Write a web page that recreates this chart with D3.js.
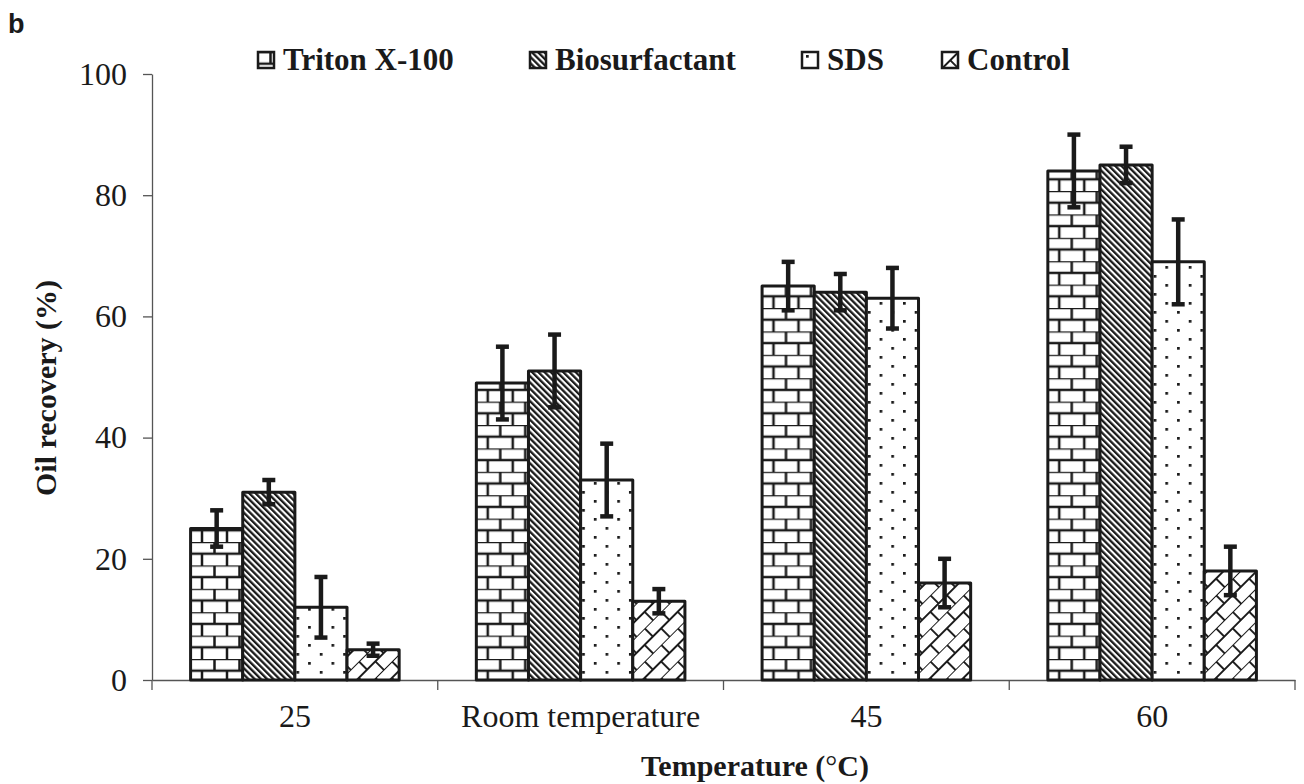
<!DOCTYPE html>
<html>
<head>
<meta charset="utf-8">
<script src="https://cdn.jsdelivr.net/npm/d3@7"></script>
<style>
    html, body { margin: 0; padding: 0; background: #fff; }
    #chart { width: 1304px; height: 784px; }
    text { font-family: "Liberation Serif", "Times New Roman", serif; fill: #1a1a1a; }
</style>
</head>
<body>
<div id="chart"></div>
<script>

// values
var categories = ['25', 'Room temperature', '45', '60'];
var seriesNames = ['Triton X-100', 'Biosurfactant', 'SDS', 'Control'];

var tritonValues = [25, 49, 65, 84];
var tritonErrors = [3, 6, 4, 6];

var bioValues = [31, 51, 64, 85];
var bioErrors = [2, 6, 3, 3];

var sdsValues = [12, 33, 63, 69];
var sdsErrors = [5, 6, 5, 7];

var controlValues = [5, 13, 16, 18];
var controlErrors = [1, 2, 4, 4];

var yTicks = [0, 20, 40, 60, 80, 100];


class PatternBarChart {


    constructor(config) {

        this._config = config;
        this._width = 1304;
        this._height = 784;

        this._margin = {
            left: 152,
            top: 74,
            right: 9,
            bottom: 104
        };
    }


    renderTo(selector) {

        var svg = d3.select(selector)
            .append('svg')
            .attr('width', this._width)
            .attr('height', this._height);

        this._svg = svg;
        this._addPatterns(svg.append('defs'));

        var x0 = this._getGroupScale();
        var x1 = this._getSeriesScale(x0);
        var y = this._getYScale();
        var innerH = this._getInnerHeight();
        var ink = '#1a1a1a';

        var canvas = svg.append('g')
            .attr('transform', 'translate(' + [this._margin.left, this._margin.top] + ')');

        // y axis
        var yAxis = canvas.append('g')
            .attr('class', 'axis y-axis')
            .call(d3.axisLeft(y).tickValues(yTicks).tickSize(9).tickPadding(16).tickSizeOuter(0));

        yAxis.selectAll('text')
            .style('font-size', '32px')
            .style('font-family', '"Liberation Serif", serif')
            .attr('fill', ink);

        // x axis (labels at band centres, ticks at band edges)
        var xAxis = canvas.append('g')
            .attr('class', 'axis x-axis')
            .attr('transform', 'translate(0,' + innerH + ')')
            .call(d3.axisBottom(x0).tickSize(0).tickPadding(24).tickSizeOuter(0));

        xAxis.selectAll('text')
            .style('font-size', '32px')
            .style('font-family', '"Liberation Serif", serif')
            .attr('fill', ink);

        var edges = categories.map(d => x0(d)).concat([x0.range()[1]]);

        xAxis.selectAll('line.edge')
            .data(edges)
            .enter()
            .append('line')
            .attr('class', 'edge')
            .attr('x1', d => d)
            .attr('x2', d => d)
            .attr('y1', 0)
            .attr('y2', 10);

        canvas.selectAll('.axis path, .axis line')
            .attr('stroke', '#555')
            .attr('stroke-width', 1.3);

        // bars
        var groups = canvas.selectAll('g.group')
            .data(categories)
            .enter()
            .append('g')
            .attr('class', 'group')
            .attr('transform', d => 'translate(' + x0(d) + ',0)');

        var self = this;

        groups.each(function(cat, ci) {

            var g = d3.select(this);
            var rows = self._config.series.map(s => ({
                key: s.key,
                name: s.name,
                value: s.values[ci],
                error: s.errors[ci]
            }));

            g.selectAll('rect.bar')
                .data(rows)
                .enter()
                .append('rect')
                .attr('class', 'bar')
                .attr('x', d => x1(d.name))
                .attr('y', d => y(d.value))
                .attr('width', x1.bandwidth())
                .attr('height', d => innerH - y(d.value))
                .attr('fill', d => 'url(#p-' + d.key + ')')
                .attr('stroke', ink)
                .attr('stroke-width', 3)
                .attr('stroke-linejoin', 'round');

            var err = g.selectAll('g.err')
                .data(rows)
                .enter()
                .append('g')
                .attr('class', 'err')
                .attr('stroke', ink)
                .attr('stroke-width', 4.5);

            err.append('line')
                .attr('x1', d => x1(d.name) + x1.bandwidth() / 2)
                .attr('x2', d => x1(d.name) + x1.bandwidth() / 2)
                .attr('y1', d => y(d.value + d.error))
                .attr('y2', d => y(d.value - d.error));

            err.selectAll('line.cap')
                .data(d => [d.value + d.error, d.value - d.error].map(v => ({ v: v, cx: x1(d.name) + x1.bandwidth() / 2 })))
                .enter()
                .append('line')
                .attr('class', 'cap')
                .attr('x1', d => d.cx - 6.5)
                .attr('x2', d => d.cx + 6.5)
                .attr('y1', d => y(d.v))
                .attr('y2', d => y(d.v));
        });

        // legend
        var legendX = [258, 530, 802, 942];

        var legend = svg.selectAll('g.legend')
            .data(this._config.series)
            .enter()
            .append('g')
            .attr('class', 'legend')
            .attr('transform', (d, i) => 'translate(' + [legendX[i], 52] + ')');

        legend.append('rect')
            .attr('width', 16)
            .attr('height', 16)
            .attr('fill', d => 'url(#p-' + d.key + ')')
            .attr('stroke', ink)
            .attr('stroke-width', 2.5);

        legend.append('text')
            .attr('x', 25)
            .attr('y', 18)
            .style('font-size', '31px')
            .style('font-weight', 'bold')
            .text(d => d.name);

        // titles
        svg.append('text')
            .attr('transform', 'translate(56,388) rotate(-90)')
            .attr('text-anchor', 'middle')
            .style('font-size', '30px')
            .style('font-weight', 'bold')
            .text('Oil recovery (%)');

        var xt = svg.append('text')
            .attr('x', 755)
            .attr('y', 776)
            .attr('text-anchor', 'middle')
            .style('font-size', '30px')
            .style('font-weight', 'bold');

        xt.append('tspan').text('Temperature (');
        xt.append('tspan').style('font-weight', 'normal').text('°');
        xt.append('tspan').text('C)');

        svg.append('text')
            .attr('x', 8)
            .attr('y', 33)
            .style('font-family', '"Liberation Sans", Arial, sans-serif')
            .style('font-size', '27px')
            .style('font-weight', 'bold')
            .text('b');

        return this;
    }


    _addPatterns(defs) {

        var ink = '#1a1a1a';

        // horizontal brick
        var brick = defs.append('pattern')
            .attr('id', 'p-triton')
            .attr('patternUnits', 'userSpaceOnUse')
            .attr('width', 25)
            .attr('height', 23.4);
        brick.append('rect').attr('width', 25).attr('height', 23.4).attr('fill', '#fff');
        brick.append('path')
            .attr('d', 'M0,0H25M0,11.7H25M12.5,0V11.7M0,11.7V23.4M25,11.7V23.4')
            .attr('stroke', ink)
            .attr('stroke-width', 2.5);

        // dark downward diagonal
        var stripes = defs.append('pattern')
            .attr('id', 'p-bio')
            .attr('patternUnits', 'userSpaceOnUse')
            .attr('width', 4.4)
            .attr('height', 10)
            .attr('patternTransform', 'rotate(-45)');
        stripes.append('rect').attr('width', 4.4).attr('height', 10).attr('fill', '#fff');
        stripes.append('rect').attr('width', 2.3).attr('height', 10).attr('fill', ink);

        // dotted
        var dots = defs.append('pattern')
            .attr('id', 'p-sds')
            .attr('patternUnits', 'userSpaceOnUse')
            .attr('width', 23.4)
            .attr('height', 18)
            .attr('x', 4)
            .attr('y', 3);
        dots.append('rect').attr('width', 23.4).attr('height', 18).attr('fill', '#fff');
        dots.append('rect').attr('x', 0).attr('y', 0).attr('width', 2.7).attr('height', 2.7).attr('fill', ink);
        dots.append('rect').attr('x', 11.7).attr('y', 9).attr('width', 2.7).attr('height', 2.7).attr('fill', ink);

        // diagonal brick
        var dbrick = defs.append('pattern')
            .attr('id', 'p-control')
            .attr('patternUnits', 'userSpaceOnUse')
            .attr('width', 23.4)
            .attr('height', 23.4)
            .attr('patternTransform', 'rotate(-45)');
        dbrick.append('rect').attr('width', 23.4).attr('height', 23.4).attr('fill', '#fff');
        dbrick.append('path')
            .attr('d', 'M0,0H23.4M0,11.7H23.4M11.7,0V11.7M0,11.7V23.4M23.4,11.7V23.4')
            .attr('stroke', ink)
            .attr('stroke-width', 1.9);
    }


    _getGroupScale() {

        return d3.scaleBand()
            .domain(categories)
            .range([0, this._getInnerWidth()])
            .padding(0);
    }


    _getSeriesScale(x0) {

        return d3.scaleBand()
            .domain(seriesNames)
            .range([0, x0.bandwidth()])
            .paddingInner(0)
            .paddingOuter(0.74);
    }


    _getYScale() {

        return d3.scaleLinear()
            .domain([0, 100])
            .range([this._getInnerHeight(), 0]);
    }


    _getInnerWidth() {

        return this._width - this._margin.left - this._margin.right;
    }


    _getInnerHeight() {

        return this._height - this._margin.top - this._margin.bottom;
    }
}


new PatternBarChart({
    series: [
        { key: 'triton', name: seriesNames[0], values: tritonValues, errors: tritonErrors },
        { key: 'bio', name: seriesNames[1], values: bioValues, errors: bioErrors },
        { key: 'sds', name: seriesNames[2], values: sdsValues, errors: sdsErrors },
        { key: 'control', name: seriesNames[3], values: controlValues, errors: controlErrors }
    ]
}).renderTo('#chart');

</script>
</body>
</html>
